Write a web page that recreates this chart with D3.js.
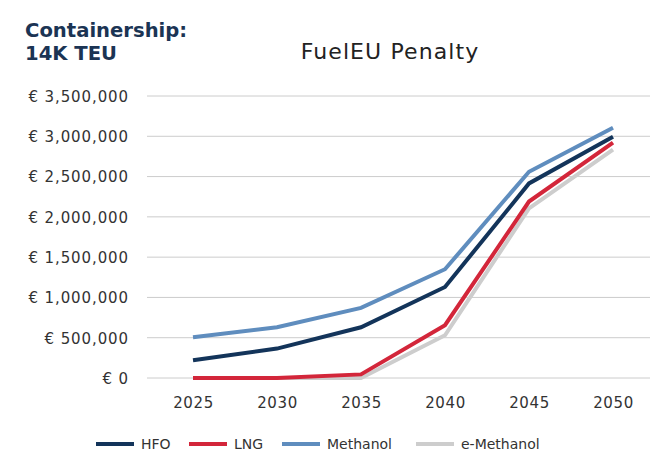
<!DOCTYPE html>
<html><head><meta charset="utf-8">
<script src="https://cdn.jsdelivr.net/npm/d3@7"></script>
<style>body{margin:0;background:#fff;}svg{display:block;font-family:"DejaVu Sans",sans-serif;}</style>
</head><body>
<svg id="c" width="668" height="466"></svg>
<script>
const years = ["2025","2030","2035","2040","2045","2050"];
const hfo = [220000, 365000, 630000, 1130000, 2415000, 2995000];
const lng = [0, 0, 45000, 655000, 2190000, 2920000];
const methanol = [505000, 630000, 870000, 1350000, 2560000, 3105000];
const eMethanol = [0, 0, 0, 530000, 2105000, 2835000];
const yTicks = [0, 500000, 1000000, 1500000, 2000000, 2500000, 3000000, 3500000];
const seriesNames = ["HFO", "LNG", "Methanol", "e-Methanol"];
const colors = ["#13345a", "#d3263a", "#5f8dbe", "#cdcdcd"];

const FONT = "'DejaVu Sans', sans-serif";
const svg = d3.select("#c");
const x = d3.scalePoint().domain(years).range([193, 613]);
const y = d3.scaleLinear().domain([0, 3500000]).range([378, 96]);
const fmt = v => "€ " + d3.format(",")(v);

// gridlines
svg.append("g").selectAll("line").data(yTicks).join("line")
  .attr("x1", 147).attr("x2", 650)
  .attr("y1", d => y(d)).attr("y2", d => y(d))
  .attr("stroke", "#cccccc").attr("stroke-width", 1);

// y axis labels
const yAxis = d3.axisLeft(y).tickValues(yTicks).tickFormat(fmt).tickSize(0).tickPadding(0);
const ya = svg.append("g").attr("transform", "translate(129,0)").call(yAxis);
ya.select(".domain").remove();
ya.selectAll("text").attr("font-size", 15).attr("fill", "#333").attr("font-family", FONT)
  .attr("letter-spacing", 0.9).attr("dy", "0.36em");

// x axis labels
const xAxis = d3.axisBottom(x).tickSize(0).tickPadding(0);
const xa = svg.append("g").attr("transform", "translate(0,397)").call(xAxis);
xa.select(".domain").remove();
xa.selectAll("text").attr("font-size", 15).attr("fill", "#333").attr("font-family", FONT)
  .attr("letter-spacing", 0.6).attr("dy", "0.71em");

const data = [hfo, lng, methanol, eMethanol];
const line = d3.line().x((d, i) => x(years[i])).y(d => y(d));
const order = [3, 2, 0, 1];
order.forEach(k => {
  svg.append("path").datum(data[k]).attr("d", line)
    .attr("fill", "none").attr("stroke", colors[k]).attr("stroke-width", 4)
    .attr("stroke-linejoin", "miter");
});

// titles
const t = svg.append("text").attr("x", 25).attr("font-size", 19.6).attr("font-weight", "bold").attr("fill", "#1b3454");
t.append("tspan").attr("x", 25).attr("y", 36.5).text("Containership:");
t.append("tspan").attr("x", 25).attr("y", 60).text("14K TEU");
svg.append("text").attr("x", 390).attr("y", 58.5).attr("text-anchor", "middle")
  .attr("font-size", 22).attr("letter-spacing", 1.1).attr("fill", "#222").text("FuelEU Penalty");

// legend
const legX = [96, 189, 282, 416];
seriesNames.forEach((n, i) => {
  svg.append("line").attr("x1", legX[i]).attr("x2", legX[i] + 38)
    .attr("y1", 444).attr("y2", 444).attr("stroke", colors[i]).attr("stroke-width", 4);
  svg.append("text").attr("x", legX[i] + 45).attr("y", 449).attr("font-size", 14)
    .attr("fill", "#333").text(n);
});
</script>
</body></html>
